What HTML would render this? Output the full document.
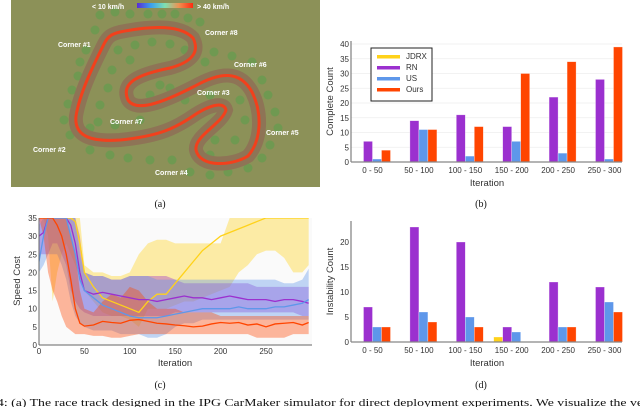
<!DOCTYPE html>
<html><head><meta charset="utf-8"><style>
html,body{margin:0;padding:0;background:#fff;width:640px;height:407px;overflow:hidden}
svg{display:block}
text{font-family:"Liberation Sans","DejaVu Sans",sans-serif}
.cap{font-family:"Liberation Serif",serif;font-size:10px;fill:#111}
.tk{font-size:8px;fill:#333}
.lab{font-size:9.5px;fill:#333}
</style></head><body>
<svg id="fig" width="640" height="407" viewBox="0 0 640 407">
<defs>
<linearGradient id="spd" x1="0" x2="1" y1="0" y2="0">
<stop offset="0" stop-color="#5a2bd6"/><stop offset="0.25" stop-color="#3aa0f0"/><stop offset="0.5" stop-color="#7fe0b0"/><stop offset="0.75" stop-color="#f09050"/><stop offset="1" stop-color="#ff2a10"/></linearGradient>
<clipPath id="clipc"><rect x="39" y="218" width="273" height="127"/></clipPath>
</defs>
<g>
<rect x="11" y="0" width="309" height="187" fill="#8c9158"/>
<g id="trees"></g>
<path d="M120,32 C150,26 180,24 193,38 C200,52 192,62 170,68 C140,74 120,82 128,100 C136,112 160,104 195,86 C220,72 240,70 252,92 C262,112 262,140 248,156 C232,166 200,168 196,150 C194,136 222,124 226,110 C224,102 212,104 196,114 C176,128 160,136 120,140 C90,142 74,136 76,116 C80,92 94,64 104,44 C108,36 112,34 120,32 Z" fill="none" stroke="#8e7456" stroke-width="14"/>
<path d="M120,32 C150,26 180,24 193,38 C200,52 192,62 170,68 C140,74 120,82 128,100 C136,112 160,104 195,86 C220,72 240,70 252,92 C262,112 262,140 248,156 C232,166 200,168 196,150 C194,136 222,124 226,110 C224,102 212,104 196,114 C176,128 160,136 120,140 C90,142 74,136 76,116 C80,92 94,64 104,44 C108,36 112,34 120,32 Z" fill="none" stroke="#f2401c" stroke-width="3"/>
<rect x="137" y="3" width="56" height="5" fill="url(#spd)"/>
<g font-size="7" font-weight="bold" fill="#fff">
<text x="92" y="9">&lt; 10 km/h</text>
<text x="197" y="9">&gt; 40 km/h</text>
<text x="58" y="47">Corner #1</text>
<text x="205" y="35">Corner #8</text>
<text x="234" y="67">Corner #6</text>
<text x="197" y="95">Corner #3</text>
<text x="110" y="124">Corner #7</text>
<text x="266" y="135">Corner #5</text>
<text x="33" y="152">Corner #2</text>
<text x="155" y="175">Corner #4</text>
</g></g>
<text class="cap" x="160" y="207" text-anchor="middle">(a)</text>
<g id="chartB"></g>
<text class="cap" x="481" y="207" text-anchor="middle">(b)</text>
<g id="chartC"></g>
<text class="cap" x="160" y="388" text-anchor="middle">(c)</text>
<g id="chartD"></g>
<text class="cap" x="481" y="388" text-anchor="middle">(d)</text>
<text class="cap" x="-3" y="406" font-size="11.5" textLength="646" lengthAdjust="spacingAndGlyphs">4: (a) The race track designed in the IPG CarMaker simulator for direct deployment experiments. We visualize the ve</text>
</svg>
<script>
const categories=["0 - 50","50 - 100","100 - 150","150 - 200","200 - 250","250 - 300"];
const seriesNames=["JDRX","RN","US","Ours"];
const colors=["#ffd21a","#9b30cf","#5e97ea","#ff4500"];
const completeJDRX=[0,0,0,0,0,0];
const completeRN=[7,14,16,12,22,28];
const completeUS=[1,11,2,7,3,1];
const completeOurs=[4,11,12,30,34,39];
const instabJDRX=[0,0,0,1,0,0];
const instabRN=[7,23,20,3,12,11];
const instabUS=[3,6,5,2,3,8];
const instabOurs=[3,4,3,0,3,6];
const bTicks=[0,5,10,15,20,25,30,35,40];
const dTicks=[0,5,10,15,20];
const cTicksY=[0,5,10,15,20,25,30,35];
const cTicksX=[0,50,100,150,200,250];
const iters=[0,5,10,15,20,25,30,35,40,45,50,60,70,80,90,100,110,120,130,140,150,160,170,180,190,200,210,220,230,240,250,260,270,280,290,297];
const oursMean=[35,35,35,35,33,30,25,18,10,6,5.2,5.5,6.5,6.2,6,6.8,7,6.5,6,5.8,5.5,5.3,5,5.2,5.8,6.2,6,6.2,5.5,5.8,5,5.8,6,6.2,5.5,6.2];
const oursLo=[35,30,20,15,12,8,5,4,3,3,3,2.5,2.5,2,2,2.5,3,3,3,3,3,3,3,3,3,3,3,3,3,2,2,2,2,3,3,3];
const oursHi=[35,35,35,35,35,35,35,30,25,15,10,9,12,14,13,16,15,12,10,10,10,9,9,9,9,8,8,8,8,8,8,8,8,8,8,8];
const rnMean=[30,31,35,35,35,35,35,33,28,20,15,14,14.5,14,13.5,13,12.5,12.5,12,12.5,13,13.5,13,13,12.5,13,13.5,13,12.5,12.5,12.5,12,12.5,12.5,12,11.5];
const rnLo=[25,25,25,28,28,25,22,15,12,10,9,8,8,8,8,8,8,8,8,8,9,9,9,9,9,9,9,9,9,9,9,9,9,9,8,8];
const rnHi=[35,35,35,35,35,35,35,35,35,30,20,19,19,18,18,19,19,19,19,19,18,17,17,17,17,17,17,17,17,16,16,16,16,16,16,16];
const usMean=[23,30,35,35,35,35,35,30,25,18,15,13,11,10,9,8,7.5,7.5,7.5,8,8.5,9,9.5,10,10,10,10,10.5,10,10,10,10.5,10.5,11,11.5,12.5];
const usLo=[20,22,25,25,25,22,18,12,8,6,5,4,4,4,3,3,3,2,2,3,5,6,6,7,7,7,7,7,7,7,7,7,7,7,7,7];
const usHi=[33,35,35,35,35,35,35,35,35,25,20,19,19,18,18,19,19,19,18,18,18,18,18,18,18,18,18,18,18,18,18,18,17,17,18,21];
const jdrxMean=[35,35,35,35,35,35,35,35,34,28,20,16,13,12,11,10,9,12,14,14,17,20,23,26,28,30,31,32,33,34,35,35,35,35,35,35];
const jdrxLo=[35,35,30,12,20,25,28,25,22,18,15,12,9,8,8,7,5,10,10,10,11,12,12,13,14,15,16,20,22,25,26,26,24,20,20,22];
const jdrxHi=[35,35,35,35,35,35,35,35,35,35,22,20,20,19,19,20,25,28,29,29,28,28,28,28,28,28,35,35,35,35,35,35,35,35,35,35];

const NS="http://www.w3.org/2000/svg";
function mk(tag,attrs,parent,txt){const e=document.createElementNS(NS,tag);for(const k in attrs)e.setAttribute(k,attrs[k]);if(txt!==undefined)e.textContent=txt;parent.appendChild(e);return e;}

(function(){const g=document.getElementById('trees');
const pts=[[100,15],[115,12],[130,14],[148,14],[162,14],[175,14],[188,18],[200,22],[95,30],[86,50],[80,62],[78,76],[72,90],[68,104],[64,120],[70,135],[90,150],[110,155],[128,158],[150,160],[172,160],[190,172],[210,175],[228,172],[248,168],[262,158],[270,145],[278,128],[275,112],[268,95],[262,80],[252,62],[232,56],[214,52],[205,62],[118,50],[135,45],[152,42],[170,44],[185,50],[112,70],[108,88],[100,105],[98,122],[115,125],[140,120],[150,95],[170,88],[185,100],[210,95],[240,100],[245,120],[235,140],[215,140],[210,155],[160,85],[130,60],[90,128]];
pts.forEach(p=>{const c=mk('circle',{cx:p[0],cy:p[1],r:4.5,fill:'#6a9a50',opacity:0.85},g);

});})();

function barChart(gid,data,ticks,scale,base,ylabel,top,showLegend){
 const g=document.getElementById(gid);
 const x0=351,x1=622;
 const y=v=>base-v*scale;
 ticks.forEach(t=>{
  if(showLegend&&t>0){const gl=mk('line',{x1:x0,x2:x1,y1:y(t),y2:y(t),stroke:'#eee','stroke-width':0.8},g);
  
  }
  const tl=mk('text',{x:x0-2,y:y(t)+3,'text-anchor':'end',class:'tk'},g,String(t));
  
  
 });
 categories.forEach((c,i)=>{
  const cx=372.5+i*46.4;
  data.forEach((s,k)=>{
   if(s[i]<=0)return;
   const r=mk('rect',{x:cx-18+k*9,y:y(s[i]),width:9,height:s[i]*scale,fill:colors[k],stroke:'rgba(255,255,255,0.5)','stroke-width':0.6},g);
   
   
  });
  const cl=mk('text',{x:cx,y:base+11,'text-anchor':'middle',class:'tk'},g,c);
  
  
 });
 const ya=mk('line',{x1:x0,x2:x0,y1:top,y2:base,stroke:'#666','stroke-width':1},g);
 
 
 const xa=mk('line',{x1:x0,x2:x1,y1:base,y2:base,stroke:'#888','stroke-width':1.2},g);
 
 
 const xt=mk('text',{x:487,y:base+24,'text-anchor':'middle',class:'lab'},g,'Iteration');
 
 
 const yt=mk('text',{x:0,y:0,'text-anchor':'middle',class:'lab',transform:`translate(333,${(top+base)/2}) rotate(-90)`},g,ylabel);
 
 
 if(showLegend){
  const lg=mk('g',{},g);
  
  
  mk('rect',{x:371,y:48,width:61,height:53,fill:'#fff',stroke:'#222','stroke-width':1},lg);
  seriesNames.forEach((n,k)=>{
   const sw=mk('rect',{x:377,y:55+k*11,width:23,height:3.5,fill:colors[k]},lg);
   
   
   const lt=mk('text',{x:406,y:59+k*11,class:'tk'},lg,n);
   
   
  });
 }
}
barChart('chartB',[completeJDRX,completeRN,completeUS,completeOurs],bTicks,2.95,162,'Complete Count',41,true);
barChart('chartD',[instabJDRX,instabRN,instabUS,instabOurs],dTicks,5,342,'Instability Count',221,false);

(function(){
 const g=document.getElementById('chartC');
 const X=v=>39+v*0.908, Y=v=>345-v*3.63;
 mk('rect',{x:39,y:218,width:273,height:127,fill:'#fafafa'},g);
 const cg=mk('g',{'clip-path':'url(#clipc)'},g);
 const sets=[[jdrxLo,jdrxHi,jdrxMean,0,'jdrx'],[rnLo,rnHi,rnMean,1,'rn'],[usLo,usHi,usMean,2,'us'],[oursLo,oursHi,oursMean,3,'ours']];
 sets.forEach(s=>{
  let d='M'+iters.map((t,i)=>X(t)+','+Y(s[1][i])).join('L');
  for(let i=iters.length-1;i>=0;i--)d+='L'+X(iters[i])+','+Y(s[0][i]);
  const b=mk('path',{d:d+'Z',fill:colors[s[3]],opacity:0.38},cg);
  
  
 });
 sets.forEach(s=>{
  const l=mk('path',{d:'M'+iters.map((t,i)=>X(t)+','+Y(s[2][i])).join('L'),fill:'none',stroke:colors[s[3]],'stroke-width':1.3},cg);
  
  
 });
 cTicksY.forEach(t=>{const tl=mk('text',{x:37,y:Y(t)+3,'text-anchor':'end',class:'tk'},g,String(t));
  
  });
 cTicksX.forEach(t=>{const tl=mk('text',{x:X(t),y:354,'text-anchor':'middle',class:'tk'},g,String(t));
  
  });
 const ya=mk('line',{x1:39,x2:39,y1:218,y2:345,stroke:'#666'},g);
 
 
 const xa=mk('line',{x1:39,x2:312,y1:345,y2:345,stroke:'#666'},g);
 
 
 const xt=mk('text',{x:175,y:366,'text-anchor':'middle',class:'lab'},g,'Iteration');
 
 
 const yt=mk('text',{x:0,y:0,'text-anchor':'middle',class:'lab',transform:'translate(20,281) rotate(-90)'},g,'Speed Cost');
 
 
})();
</script>
</body></html>
